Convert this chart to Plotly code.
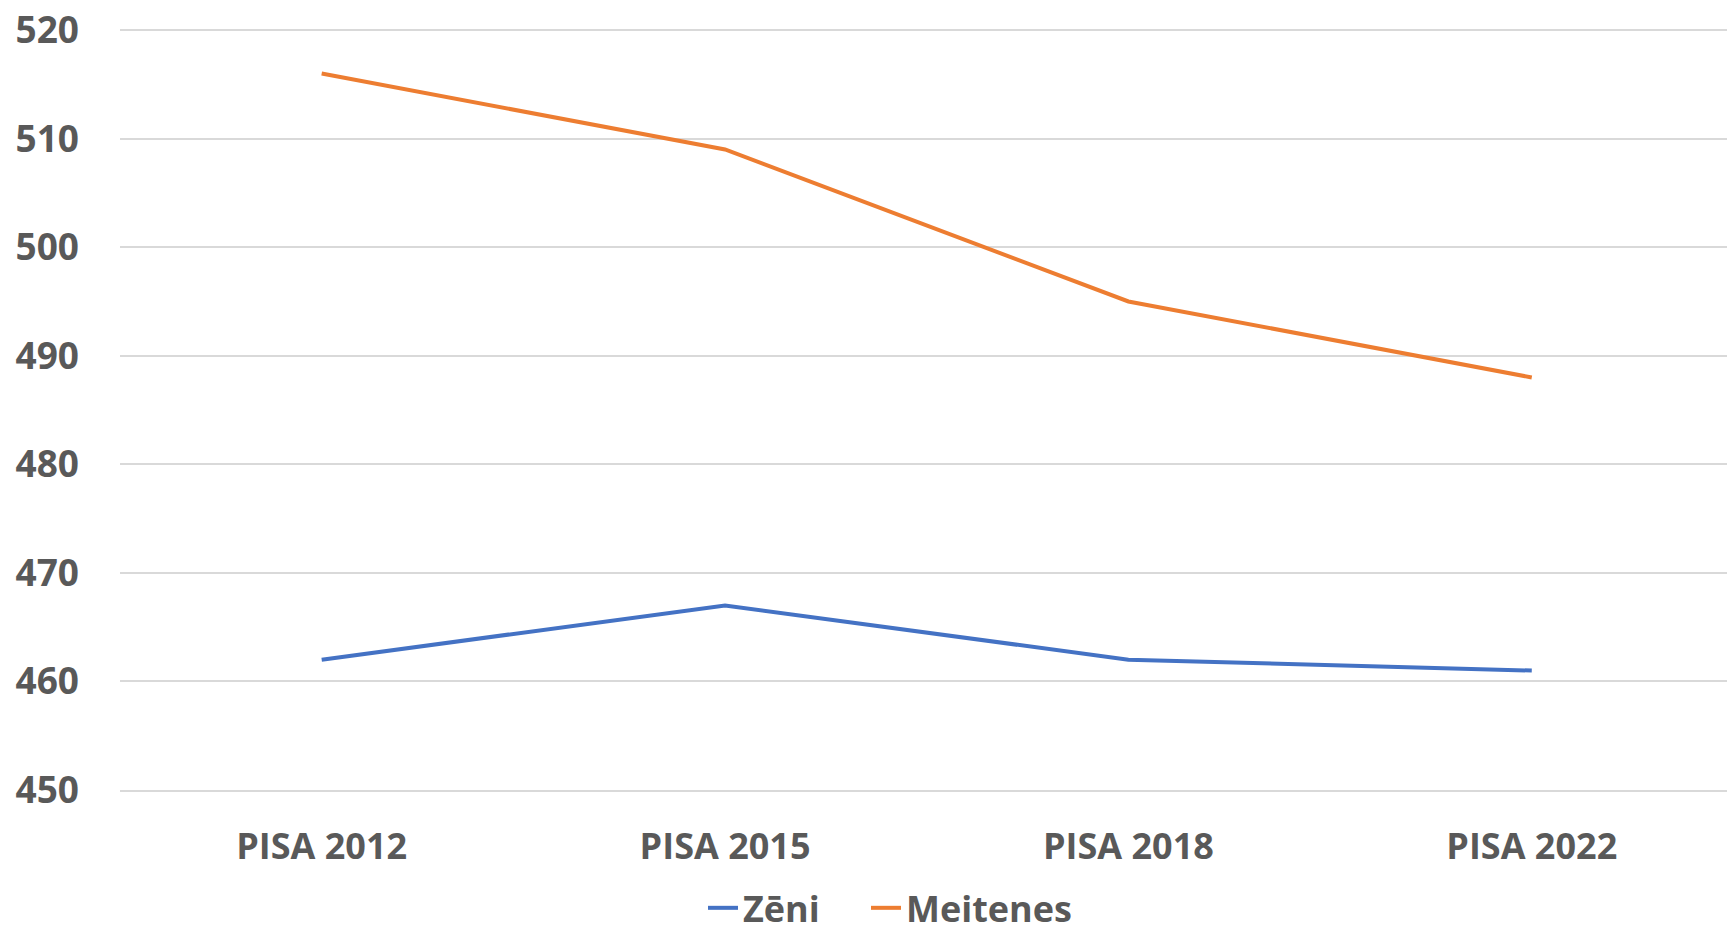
import plotly.graph_objects as go

categories = ["PISA 2012", "PISA 2015", "PISA 2018", "PISA 2022"]
zeni = [462, 467, 462, 461]
meitenes = [516, 509, 495, 488]
y_ticks = [450, 460, 470, 480, 490, 500, 510, 520]

FONT = "Open Sans"
TXT = "#595959"

fig = go.Figure()
fig.add_trace(go.Scatter(x=categories, y=zeni, name="Zēni", mode="lines",
                         line=dict(color="#4472C4", width=4), legend="legend"))
fig.add_trace(go.Scatter(x=categories, y=meitenes, name="Meitenes", mode="lines",
                         line=dict(color="#ED7D31", width=4), legend="legend2"))

leg_common = dict(orientation="h", xanchor="left", xref="container",
                  yref="container", y=0.03, yanchor="middle",
                  font=dict(family=FONT, size=36, color=TXT, weight="bold"),
                  itemwidth=30, bgcolor="rgba(0,0,0,0)")

fig.update_layout(
    width=1727, height=936,
    margin=dict(l=120, r=0, t=29, b=146, autoexpand=False),
    paper_bgcolor="white", plot_bgcolor="white",
    font=dict(family=FONT, size=36, color=TXT),
    showlegend=True,
    legend=dict(x=703 / 1727, **leg_common),
    legend2=dict(x=866 / 1727, **leg_common),
    xaxis=dict(type="category", range=[-0.5, 3.484], showgrid=False, automargin=False,
               showline=True, linecolor="#D9D9D9", linewidth=1.5,
               tickfont=dict(family=FONT, size=36, color=TXT, weight="bold"),
               ticks="", ticklabelstandoff=24, zeroline=False),
    yaxis=dict(range=[450, 520.1], tickvals=y_ticks, showgrid=True, automargin=False,
               gridcolor="#D9D9D9", gridwidth=1.5, zeroline=False, showline=False,
               tickfont=dict(family=FONT, size=37, color=TXT, weight="bold"),
               ticks="", ticklabelstandoff=40),
)

fig.write_html("out.html", config={"displayModeBar": False},
               post_script="document.body.style.margin='0';document.body.style.overflow='hidden';")
